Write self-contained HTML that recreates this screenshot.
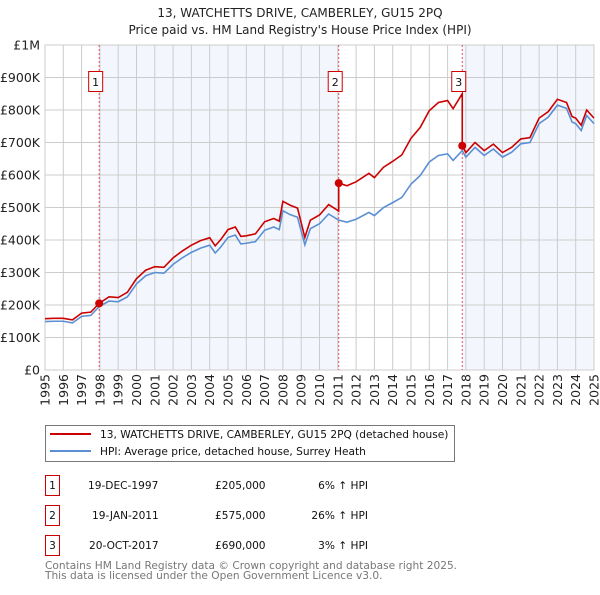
<!DOCTYPE html>
<html><head><meta charset="utf-8"><style>
body{margin:0;background:#fff;font-family:"Liberation Sans","DejaVu Sans",sans-serif;}
svg text{font-family:"DejaVu Sans","Liberation Sans",sans-serif;}
</style></head><body>
<svg id="c" width="600" height="590" viewBox="0 0 600 590" xmlns="http://www.w3.org/2000/svg">
<text x="300" y="17" text-anchor="middle" font-size="12" fill="#222">13, WATCHETTS DRIVE, CAMBERLEY, GU15 2PQ</text>
<text x="300" y="34" text-anchor="middle" font-size="12" fill="#222">Price paid vs. HM Land Registry's House Price Index (HPI)</text>
<g id="plot"></g>
<g>
<rect x="45.5" y="425.5" width="409" height="36" fill="#fff" stroke="#777"/>
<line x1="50" y1="434" x2="91" y2="434" stroke="#cc0000" stroke-width="2"/>
<text x="100" y="438" font-size="10.6" fill="#111">13, WATCHETTS DRIVE, CAMBERLEY, GU15 2PQ (detached house)</text>
<line x1="50" y1="451" x2="91" y2="451" stroke="#5b8fd4" stroke-width="2"/>
<text x="100" y="455" font-size="10.6" fill="#111">HPI: Average price, detached house, Surrey Heath</text>
</g>
<g font-size="10.6" fill="#111">
<rect x="45.5" y="475.5" width="14" height="20" fill="#fff" stroke="#cc0000"/><text x="52.5" y="489" text-anchor="middle">1</text>
<text x="88" y="489">19-DEC-1997</text><text x="215" y="489">£205,000</text><text x="368" y="489" text-anchor="end">6% ↑ HPI</text>
<rect x="45.5" y="505.5" width="14" height="20" fill="#fff" stroke="#cc0000"/><text x="52.5" y="519" text-anchor="middle">2</text>
<text x="92" y="519">19-JAN-2011</text><text x="215" y="519">£575,000</text><text x="368" y="519" text-anchor="end">26% ↑ HPI</text>
<rect x="45.5" y="535.5" width="14" height="20" fill="#fff" stroke="#cc0000"/><text x="52.5" y="549" text-anchor="middle">3</text>
<text x="89" y="549">20-OCT-2017</text><text x="215" y="549">£690,000</text><text x="368" y="549" text-anchor="end">3% ↑ HPI</text>
</g>
<text x="45" y="569" font-size="10.6" fill="#777">Contains HM Land Registry data © Crown copyright and database right 2025.</text>
<text x="45" y="579" font-size="10.6" fill="#777">This data is licensed under the Open Government Licence v3.0.</text>
</svg>
<script>
const hpiYears=[1995,1995.5,1996,1996.5,1997,1997.5,1997.96,1998.5,1999,1999.5,2000,2000.5,2001,2001.5,2002,2002.5,2003,2003.5,2004,2004.3,2004.6,2005,2005.4,2005.7,2006,2006.5,2007,2007.5,2007.8,2008,2008.4,2008.8,2009.2,2009.5,2010,2010.5,2011.05,2011.5,2012,2012.7,2013,2013.5,2014,2014.5,2015,2015.5,2016,2016.5,2017,2017.3,2017.8,2018,2018.5,2019,2019.5,2020,2020.5,2021,2021.5,2022,2022.5,2023,2023.5,2023.8,2024,2024.3,2024.6,2025];
const hpiValues=[149,150,150,145,165,168,195,212,210,225,265,290,300,298,325,345,362,375,384,360,378,408,415,388,390,395,430,440,432,490,478,470,385,435,450,480,461,455,464,485,475,500,515,531,572,598,640,660,665,645,675,655,685,660,680,655,670,696,700,758,778,815,805,763,758,737,783,758];
const priceYears=[1995,1995.5,1996,1996.5,1997,1997.5,1997.96,1998.5,1999,1999.5,2000,2000.5,2001,2001.5,2002,2002.5,2003,2003.5,2004,2004.3,2004.6,2005,2005.4,2005.7,2006,2006.5,2007,2007.5,2007.8,2008,2008.4,2008.8,2009.2,2009.5,2010,2010.5,2011.05,2011.05,2011.5,2012,2012.7,2013,2013.5,2014,2014.5,2015,2015.5,2016,2016.5,2017,2017.3,2017.8,2017.8,2018,2018.5,2019,2019.5,2020,2020.5,2021,2021.5,2022,2022.5,2023,2023.5,2023.8,2024,2024.3,2024.6,2025];
const priceValues=[158,159,159,154,175,178,205,225,223,239,281,307,318,316,345,366,384,398,407,382,401,432,440,411,413,419,456,466,458,519,507,498,408,461,477,509,489,575,567,579,605,592,624,642,662,713,746,798,823,829,804,850,690,669,700,675,695,669,685,711,715,775,795,833,823,780,775,753,800,775];
const saleYears=[1997.96,2011.05,2017.8];
const saleValues=[205,575,690];
const saleLabels=["1","2","3"];
const yTicks=[0,100,200,300,400,500,600,700,800,900,1000];
const yTickLabels=["£0","£100K","£200K","£300K","£400K","£500K","£600K","£700K","£800K","£900K","£1M"];
const xTicks=[1995,1996,1997,1998,1999,2000,2001,2002,2003,2004,2005,2006,2007,2008,2009,2010,2011,2012,2013,2014,2015,2016,2017,2018,2019,2020,2021,2022,2023,2024,2025];

const L=45,R=594,T=45,B=370,NS="http://www.w3.org/2000/svg";
const xs=y=>L+(y-1995)/30*(R-L);
const ys=v=>B-v/1000*(B-T);
const g=document.getElementById('plot');
function mk(tag,attrs,parent){const e=document.createElementNS(NS,tag);for(const k in attrs)e.setAttribute(k,attrs[k]);(parent||g).appendChild(e);return e;}
const bg=mk('rect',{x:L,y:T,width:R-L,height:B-T,fill:'#fff'});


const sh1=mk('rect',{x:xs(saleYears[0]),y:T,width:xs(saleYears[1])-xs(saleYears[0]),height:B-T,fill:'#eef3fc',opacity:0.7});


const sh2=mk('rect',{x:xs(saleYears[2]),y:T,width:R-xs(saleYears[2]),height:B-T,fill:'#eef3fc',opacity:0.7});


yTicks.forEach((v,i)=>{
  const ln=mk('line',{x1:L,x2:R,y1:ys(v),y2:ys(v),stroke:'#ccc','stroke-width':1});
  
  
  const t=mk('text',{x:L-5,y:ys(v)+4.5,'text-anchor':'end','font-size':12.5,fill:'#222'});
  t.textContent=yTickLabels[i];
  
  
});
xTicks.forEach(y=>{
  const ln=mk('line',{x1:xs(y),x2:xs(y),y1:T,y2:B,stroke:'#ccc','stroke-width':1});
  
  
  const t=mk('text',{x:0,y:0,'text-anchor':'end','font-size':12.5,fill:'#222',transform:`translate(${xs(y)+4.5},${B+4}) rotate(-90)`});
  t.textContent=y;
  
  
});
const fr=mk('rect',{x:L,y:T,width:R-L,height:B-T,fill:'none',stroke:'#ccc'});


saleYears.forEach((y,i)=>{
  const v=mk('line',{x1:xs(y),x2:xs(y),y1:T,y2:B,stroke:'#e05555','stroke-width':1,'stroke-dasharray':'2,2'});
  
  
  const b=mk('rect',{x:xs(y)-10.5,y:71.5,width:14,height:20,fill:'#fff',stroke:'#cc0000'});
  
  
  const t=mk('text',{x:xs(y)-3.5,y:86,'text-anchor':'middle','font-size':11,fill:'#111'});
  t.textContent=saleLabels[i];
  
  
});
const hp=mk('polyline',{points:hpiYears.map((y,i)=>xs(y)+','+ys(hpiValues[i])).join(' '),fill:'none',stroke:'#5b8fd4','stroke-width':1.6});


const pp=mk('polyline',{points:priceYears.map((y,i)=>xs(y)+','+ys(priceValues[i])).join(' '),fill:'none',stroke:'#cc0000','stroke-width':1.6});


saleYears.forEach((y,i)=>{
  const c=mk('circle',{cx:xs(y),cy:ys(saleValues[i]),r:4,fill:'#cc0000'});
  
  
});
</script>
</body></html>
